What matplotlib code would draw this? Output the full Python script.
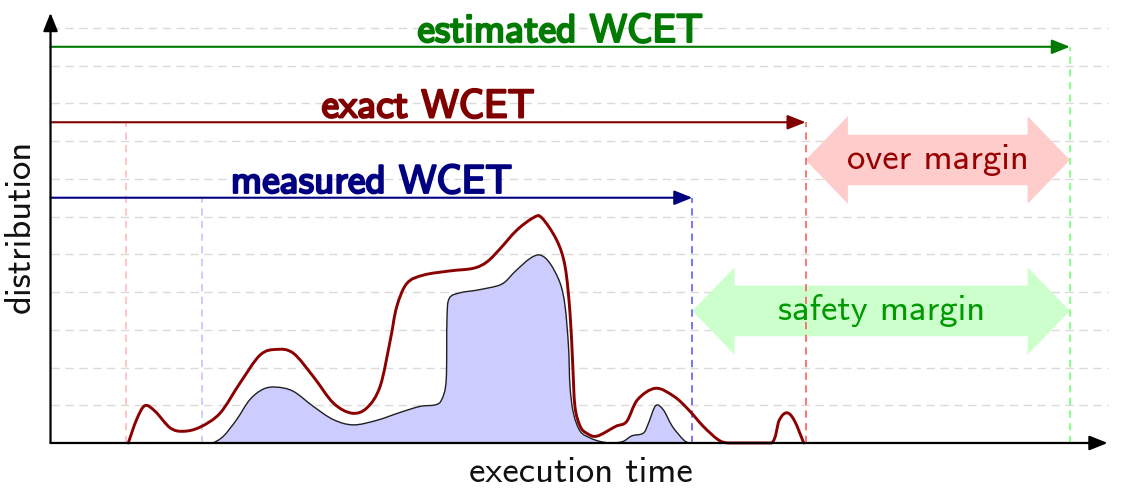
import numpy as np
import matplotlib
matplotlib.use("Agg")
import matplotlib.pyplot as plt
from matplotlib.path import Path
from matplotlib.patches import PathPatch, Polygon, FancyArrowPatch
import matplotlib.patheffects as pe

# ---------------- data ----------------
exact_x = [2.06, 2.28, 2.50, 2.77, 3.17, 3.52, 3.96, 4.49, 5.02, 5.55, 5.99, 6.43,
           6.96, 7.49, 7.98, 8.38, 8.73, 9.00, 9.17, 9.44, 9.88, 10.58, 11.20,
           11.56, 11.91, 12.35, 12.79, 13.01, 13.41, 13.63, 13.76, 13.83, 13.89,
           14.03, 14.20, 14.47, 14.97, 15.26, 15.55, 16.03, 16.52, 16.90, 17.29,
           17.68, 17.95, 18.50, 19.10, 19.30, 19.50, 19.70, 19.95]
exact_y = [0.00, 0.62, 0.99, 0.84, 0.40, 0.31, 0.42, 0.79, 1.59, 2.33, 2.48, 2.38,
           1.76, 1.06, 0.79, 0.93, 1.50, 2.73, 3.61, 4.23, 4.45, 4.56, 4.63,
           4.80, 5.15, 5.64, 5.97, 5.97, 5.37, 4.67, 3.44, 2.11, 0.97,
           0.44, 0.26, 0.18, 0.44, 0.57, 1.15, 1.45, 1.23, 0.88, 0.44,
           0.09, 0.00, 0.00, 0.00, 0.60, 0.80, 0.60, 0.00]

measured_x = [4.31, 4.58, 4.93, 5.28, 5.64, 5.99, 6.43, 6.96, 7.49, 8.02, 8.64,
              9.26, 9.79, 10.19, 10.36, 10.48, 10.50, 10.56, 10.85, 11.29, 11.82,
              12.04, 12.30, 12.70, 12.97, 13.23, 13.50, 13.63, 13.72, 13.76, 13.85,
              14.03, 14.30, 14.56, 14.85, 15.16, 15.40, 15.70, 15.84, 16.03, 16.23,
              16.47, 16.76, 16.90]
measured_y = [0.00, 0.18, 0.62, 1.15, 1.43, 1.48, 1.37, 0.97, 0.62, 0.48, 0.60,
              0.81, 0.97, 1.01, 1.15, 1.67, 3.26, 3.83, 3.98, 4.05, 4.16,
              4.27, 4.54, 4.89, 4.98, 4.76, 4.23, 3.61, 2.55, 1.50, 0.79,
              0.31, 0.13, 0.04, 0.00, 0.04, 0.19, 0.26, 0.53, 0.99, 0.88,
              0.44, 0.09, 0.00]

wcet_labels = ["measured WCET", "exact WCET", "estimated WCET"]
wcet_values = [17, 20, 27]
wcet_levels = [6.5, 8.5, 10.5]
bcet_values = [4, 2]          # left dashed markers (measured, exact)

margin_labels = ["safety margin", "over margin"]
margin_start = [17, 20]
margin_end = [27, 27]
margin_level = [3.5, 7.5]

grid_levels = list(range(1, 12))
x_label = "execution time"
y_label = "distribution"

# ---------------- style ----------------
FONT = "cmss10"
c_meas = "#000080"
c_exact = "#800000"
c_est = "#007a00"

fig = plt.figure(figsize=(11.22, 4.90), dpi=100)
ax = fig.add_axes([0, 0, 1, 1])
ax.set_xlim(-1.338, 28.38)
ax.set_ylim(-1.246, 11.74)
ax.axis("off")

# grid
for g in grid_levels:
    ax.plot([0, 28], [g, g], color="#dadada", lw=1.0, dashes=(6, 4), zorder=1)


def smooth_path(xs, ys):
    pts = np.column_stack([xs, ys]).astype(float)
    n = len(pts)
    verts = [pts[0]]
    codes = [Path.MOVETO]
    for i in range(n - 1):
        p0 = pts[i - 1] if i > 0 else pts[i]
        p1 = pts[i]
        p2 = pts[i + 1]
        p3 = pts[i + 2] if i + 2 < n else pts[i + 1]
        c1 = p1 + (p2 - p0) / 6.0
        c2 = p2 - (p3 - p1) / 6.0
        c1[1] = max(c1[1], 0.0)
        c2[1] = max(c2[1], 0.0)
        verts += [c1, c2, p2]
        codes += [Path.CURVE4] * 3
    return verts, codes


# measured distribution (filled)
v, c = smooth_path(measured_x, measured_y)
v_fill = v + [(measured_x[-1], 0), (measured_x[0], 0), (measured_x[0], 0)]
c_fill = c + [Path.LINETO, Path.LINETO, Path.CLOSEPOLY]
ax.add_patch(PathPatch(Path(v_fill, c_fill), facecolor="#ccccff", edgecolor="none", zorder=2))
ax.add_patch(PathPatch(Path(v, c), facecolor="none", edgecolor="#202020", lw=1.0, zorder=3))

# exact distribution
v, c = smooth_path(exact_x, exact_y)
ax.add_patch(PathPatch(Path(v, c), facecolor="none", edgecolor="#8b0000", lw=2.1,
                       capstyle="round", joinstyle="round", zorder=4))

# vertical dashed markers
vcols = ["#6a6aff", "#ff6a6a", "#80ff80"]
for xv, lv, col in zip(wcet_values, wcet_levels, vcols):
    ax.plot([xv, xv], [0, lv], color=col, lw=1.3, dashes=(4, 3), zorder=3)
bcols = ["#c8c8ff", "#ffc0c0"]
for xv, lv, col in zip(bcet_values, wcet_levels[:2], bcols):
    ax.plot([xv, xv], [0, lv], color=col, lw=1.3, dashes=(4, 3), zorder=1.5)

# WCET arrows + labels
acols = [c_meas, c_exact, c_est]
for lab, xv, lv, col in zip(wcet_labels, wcet_values, wcet_levels, acols):
    ax.add_patch(FancyArrowPatch((0, lv), (xv, lv), arrowstyle="-|>,head_length=0.55,head_width=0.22",
                                 mutation_scale=20, color=col, lw=1.5, shrinkA=0, shrinkB=0, zorder=5))
    ax.text(xv / 2, lv + 0.13, lab, ha="center", va="baseline", color=col, family=FONT,
            fontsize=28.5, path_effects=[pe.withStroke(linewidth=1.6, foreground=col)], zorder=6)

# margin double arrows


def double_arrow(x0, x1, yc, hl=1.12, hh=1.16, sh=0.67):
    return [(x0, yc), (x0 + hl, yc + hh), (x0 + hl, yc + sh), (x1 - hl, yc + sh),
            (x1 - hl, yc + hh), (x1, yc), (x1 - hl, yc - hh), (x1 - hl, yc - sh),
            (x0 + hl, yc - sh), (x0 + hl, yc - hh)]


mfill = ["#ccffcc", "#ffcccc"]
mtext = ["#009900", "#990000"]
for lab, x0, x1, yc, fc, tc in zip(margin_labels, margin_start, margin_end, margin_level, mfill, mtext):
    ax.add_patch(Polygon(double_arrow(x0, x1, yc), closed=True, facecolor=fc, edgecolor="none", zorder=2.5))
    ax.text((x0 + x1) / 2, yc, lab, ha="center", va="center", color=tc, family=FONT, fontsize=26.5, zorder=6)

# axes
ax.add_patch(FancyArrowPatch((0, 0), (28, 0), arrowstyle="-|>,head_length=0.55,head_width=0.22",
                             mutation_scale=20, color="black", lw=1.6, shrinkA=0, shrinkB=0, zorder=7))
ax.add_patch(FancyArrowPatch((0, 0), (0, 11.4), arrowstyle="-|>,head_length=0.55,head_width=0.22",
                             mutation_scale=20, color="black", lw=1.6, shrinkA=0, shrinkB=0, zorder=7))
ax.text(14.05, -1.03, x_label, ha="center", va="baseline", family=FONT, fontsize=26.5, color="#111111")
ax.text(-0.36, 5.75, y_label, ha="right", va="center", rotation=90, family=FONT, fontsize=26.5,
        color="#111111")

fig.savefig("out.png", dpi=100)
